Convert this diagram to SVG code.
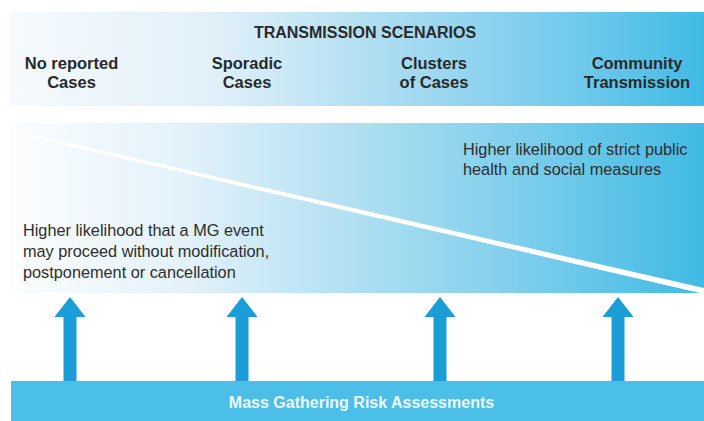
<svg xmlns="http://www.w3.org/2000/svg" width="704" height="421" viewBox="0 0 704 421">
  <defs>
    <linearGradient id="gTop" x1="0" y1="0" x2="1" y2="0">
      <stop offset="0" stop-color="#f6fafd"/>
      <stop offset="0.3" stop-color="#e0f0f9"/>
      <stop offset="0.55" stop-color="#aadcf1"/>
      <stop offset="0.8" stop-color="#75cbec"/>
      <stop offset="1" stop-color="#40bbe5"/>
    </linearGradient>
    <linearGradient id="gMid" x1="0" y1="0" x2="1" y2="0">
      <stop offset="0" stop-color="#fbfdfe"/>
      <stop offset="0.25" stop-color="#e3f2fa"/>
      <stop offset="0.5" stop-color="#b0dff2"/>
      <stop offset="0.75" stop-color="#7acdec"/>
      <stop offset="1" stop-color="#3fbae4"/>
    </linearGradient>
    <style>
      .hdr { font-family: "Liberation Sans", Arial, sans-serif; font-weight: bold; font-size: 16.5px; fill: #2a2a2a; text-anchor: middle; }
      .ttl { font-family: "Liberation Sans", Arial, sans-serif; font-weight: bold; font-size: 16px; fill: #2a2a2a; text-anchor: middle; }
      .body { font-family: "Liberation Sans", Arial, sans-serif; font-size: 16.3px; fill: #2e2e2e; }
      .arrow { fill: #1b9dd7; }
    </style>
  </defs>
  <rect width="704" height="421" fill="#ffffff"/>

  <g id="scenarios">
    <rect x="10" y="12" width="694" height="94" fill="url(#gTop)"/>
    <text class="ttl" x="365" y="38">TRANSMISSION SCENARIOS</text>
    <g id="no-reported">
      <text class="hdr" x="71.5" y="69">No reported</text>
      <text class="hdr" x="71.5" y="88">Cases</text>
    </g>
    <g id="sporadic">
      <text class="hdr" x="247" y="69">Sporadic</text>
      <text class="hdr" x="247" y="88">Cases</text>
    </g>
    <g id="clusters">
      <text class="hdr" x="434" y="69">Clusters</text>
      <text class="hdr" x="434" y="88">of Cases</text>
    </g>
    <g id="community">
      <text class="hdr" x="637" y="69">Community</text>
      <text class="hdr" x="637" y="88">Transmission</text>
    </g>
  </g>

  <g id="likelihood">
    <rect x="10" y="123" width="694" height="170" fill="url(#gMid)"/>
    <polygon points="30,134 704,288 704,294 30,137" fill="#ffffff"/>
    <g id="strict-measures">
      <text class="body" x="463" y="155">Higher likelihood of strict public</text>
      <text class="body" x="463" y="175">health and social measures</text>
    </g>
    <g id="proceed">
      <text class="body" x="23" y="236">Higher likelihood that a MG event</text>
      <text class="body" x="23" y="257">may proceed without modification,</text>
      <text class="body" x="23" y="278">postponement or cancellation</text>
    </g>
  </g>

  <g id="connectors">
    <polygon class="arrow" points="70,297 85.5,317 76.5,317 76.5,381 63.5,381 63.5,317 54.5,317"/>
    <polygon class="arrow" points="242,297 257.5,317 248.5,317 248.5,381 235.5,381 235.5,317 226.5,317"/>
    <polygon class="arrow" points="440,297 455.5,317 446.5,317 446.5,381 433.5,381 433.5,317 424.5,317"/>
    <polygon class="arrow" points="618,297 633.5,317 624.5,317 624.5,381 611.5,381 611.5,317 602.5,317"/>
  </g>

  <g id="risk-assessments">
    <rect x="11" y="381" width="693" height="40" fill="#4bbfe7"/>
    <text class="ttl" x="361.5" y="408" style="fill:#eef9fd">Mass Gathering Risk Assessments</text>
  </g>
</svg>
